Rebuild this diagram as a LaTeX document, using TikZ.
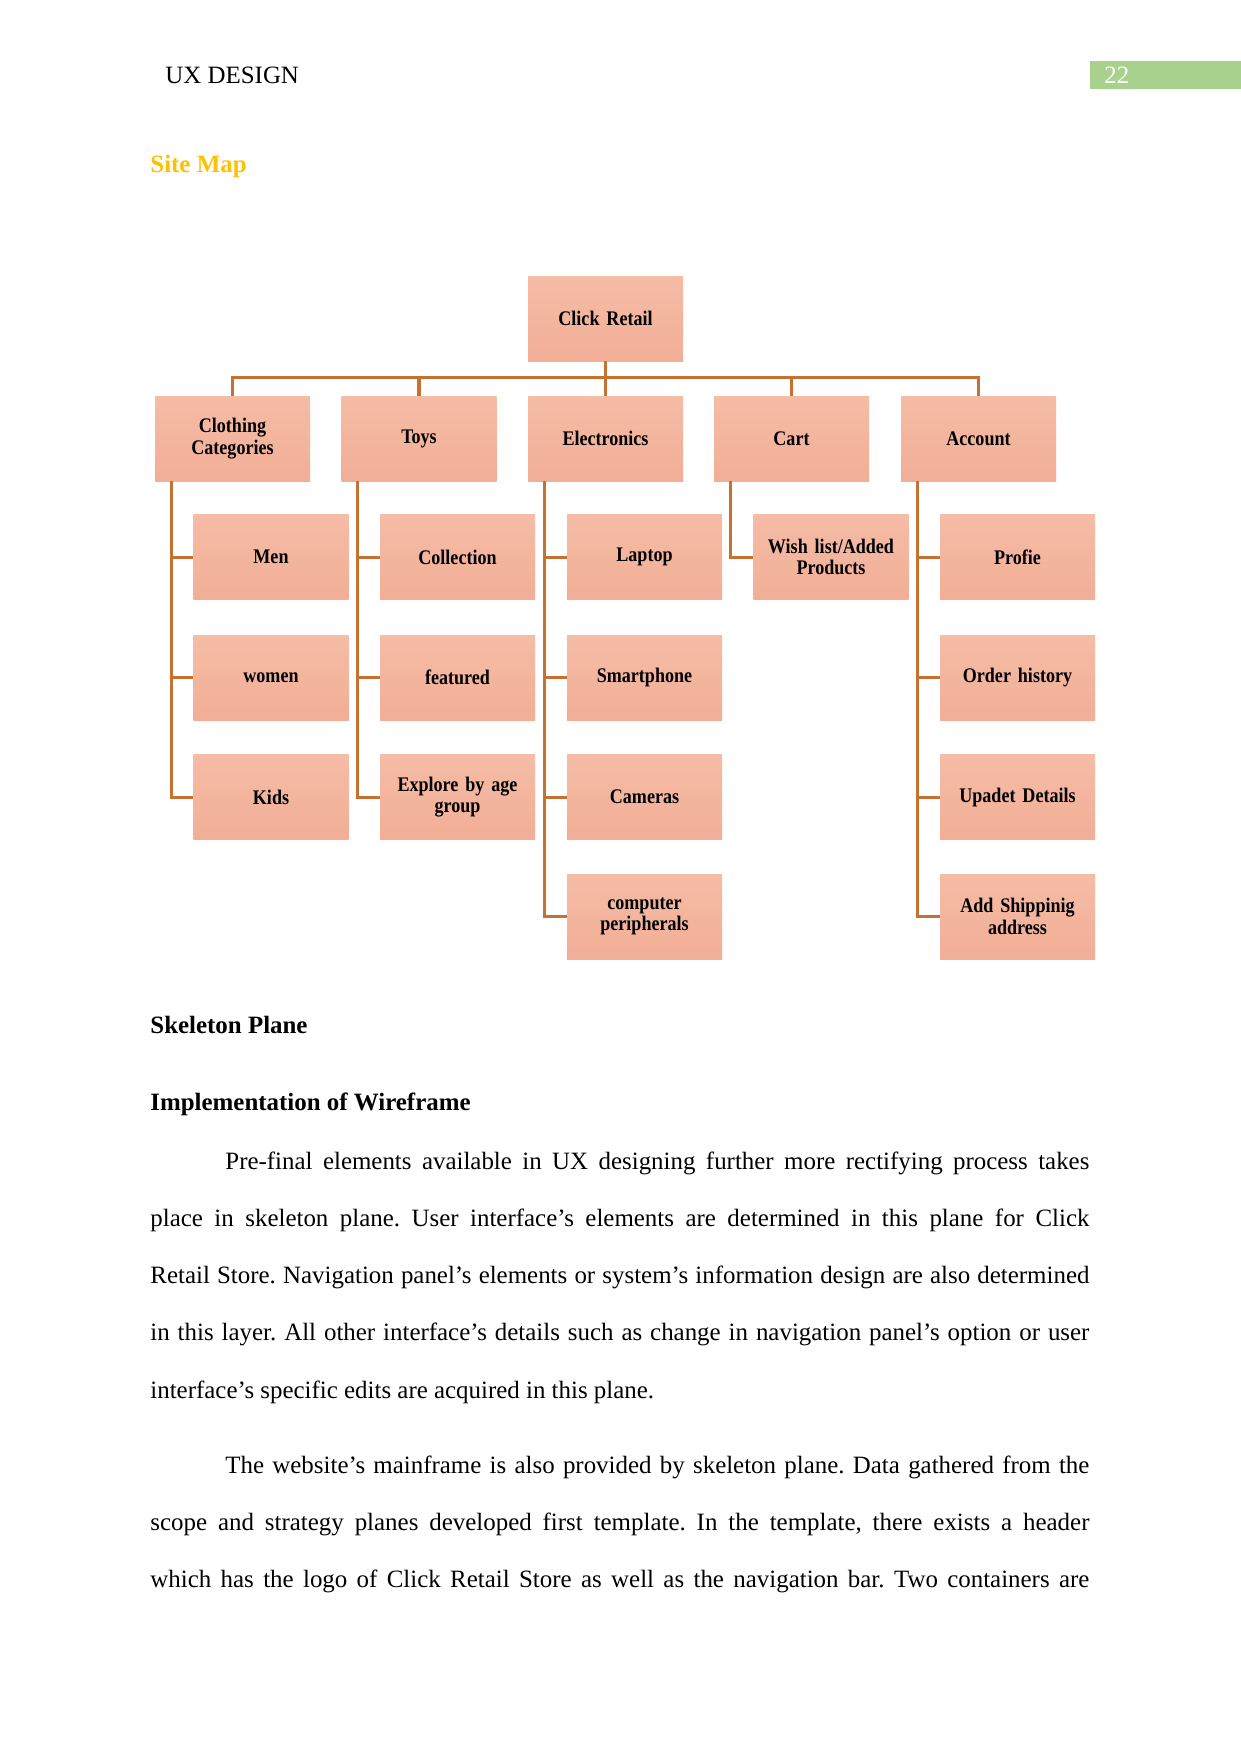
\documentclass[tikz,border=0pt]{standalone}
\usepackage{fontspec}
\setmainfont{Liberation Serif}
\newfontfamily\boxfont{Liberation Serif}[FakeStretch=0.87]
\usetikzlibrary{calc}
\newlength\pxu
\setlength\pxu{0.16925mm}
\definecolor{boxtop}{RGB}{245,188,166}
\definecolor{boxbot}{RGB}{242,174,150}
\definecolor{linkc}{RGB}{198,113,48}
\definecolor{hdrgreen}{RGB}{169,209,142}
\definecolor{gold}{RGB}{255,192,0}
\frenchspacing
\tikzset{
  sbox/.style={draw=none, top color=boxtop, bottom color=boxbot,
    minimum width=155\pxu, minimum height=85\pxu, inner sep=1pt,
    align=center, text width=140\pxu,
    font=\boxfont\bfseries\fontsize{10}{10.4}\selectfont},
  link/.style={draw=linkc, line width=1.45pt},
  bodyline/.style={anchor=base west, inner sep=0pt, font=\fontsize{12}{14}\selectfont},
  headline/.style={anchor=base west, inner sep=0pt, font=\bfseries\fontsize{12}{14}\selectfont}
}
\begin{document}
\begin{tikzpicture}[x=0.16925mm, y=-0.16925mm]
\useasboundingbox (0,0) rectangle (1241,1754);
\fill[white] (0,0) rectangle (1241,1754);

% header
\node[bodyline] (hdr) at (165,83) {UX DESIGN};
\fill[hdrgreen] (1090,61) rectangle (1241,89);
\node[bodyline, text=white] (pg) at (1104,83) {22};
\node[headline, text=gold] (sitemap) at (150,172) {Site Map};

% chart
\node[sbox] (root) at (605.5,318.5) {Click Retail};
\node[sbox] (c1) at (232.5,438.5) {Clothing\\Categories};
\node[sbox] (c2) at (419,438.5) {Toys};
\node[sbox] (c3) at (605.5,438.5) {Electronics};
\node[sbox] (c4) at (791.5,438.5) {Cart};
\node[sbox] (c5) at (978.5,438.5) {Account};

\node[sbox] (m1) at (271,557) {Men};
\node[sbox] (m2) at (271,677.5) {women};
\node[sbox] (m3) at (271,797) {Kids};

\node[sbox] (t1) at (457.5,557) {Collection};
\node[sbox] (t2) at (457.5,677.5) {featured};
\node[sbox] (t3) at (457.5,797) {Explore by age\\group};

\node[sbox] (e1) at (644.5,557) {Laptop};
\node[sbox] (e2) at (644.5,677.5) {Smartphone};
\node[sbox] (e3) at (644.5,797) {Cameras};
\node[sbox] (e4) at (644.5,916.5) {computer\\peripherals};

\node[sbox] (w1) at (831,557) {Wish list/Added\\Products};

\node[sbox] (a1) at (1017.5,557) {Profie};
\node[sbox] (a2) at (1017.5,677.5) {Order history};
\node[sbox] (a3) at (1017.5,797) {Upadet Details};
\node[sbox] (a4) at (1017.5,916.5) {Add Shippinig\\address};

\coordinate (bus) at (0,377.5);
\draw[link] (root.south) -- (root.south |- bus);
\draw[link] (c1.north) -- (c1.north |- bus) -| (c5.north);
\draw[link] (c2.north) -- (c2.north |- bus);
\draw[link] (c3.north) -- (c3.north |- bus);
\draw[link] (c4.north) -- (c4.north |- bus);

\coordinate (k1) at ($(c1.south west)+(16.5,0)$);
\coordinate (k2) at ($(c2.south west)+(16.5,0)$);
\coordinate (k3) at ($(c3.south west)+(16.5,0)$);
\coordinate (k4) at ($(c4.south west)+(16.5,0)$);
\coordinate (k5) at ($(c5.south west)+(16.5,0)$);

\foreach \ch in {m1,m2,m3} \draw[link] (k1) |- (\ch.west);
\foreach \ch in {t1,t2,t3} \draw[link] (k2) |- (\ch.west);
\foreach \ch in {e1,e2,e3,e4} \draw[link] (k3) |- (\ch.west);
\draw[link] (k4) |- (w1.west);
\foreach \ch in {a1,a2,a3,a4} \draw[link] (k5) |- (\ch.west);

% text
\node[headline] (h1) at (150,1033) {Skeleton Plane};
\node[headline] (h2) at (150,1110) {Implementation of Wireframe};

\node[bodyline] (p1) at (225,1169) {\makebox[864\pxu][s]{Pre-final elements available in UX designing further more rectifying process takes}};
\node[bodyline] (p2) at (150,1226) {\makebox[939\pxu][s]{place in skeleton plane. User interface’s elements are determined in this plane for Click}};
\node[bodyline] (p3) at (150,1283) {\makebox[939\pxu][s]{Retail Store. Navigation panel’s elements or system’s information design are also determined}};
\node[bodyline] (p4) at (150,1340) {\makebox[939\pxu][s]{in this layer. All other interface’s details such as change in navigation panel’s option or user}};
\node[bodyline] (p5) at (150,1398) {interface’s specific edits are acquired in this plane.};

\node[bodyline] (q1) at (225,1473) {\makebox[864\pxu][s]{The website’s mainframe is also provided by skeleton plane. Data gathered from the}};
\node[bodyline] (q2) at (150,1530) {\makebox[939\pxu][s]{scope and strategy planes developed first template. In the template, there exists a header}};
\node[bodyline] (q3) at (150,1587) {\makebox[939\pxu][s]{which has the logo of Click Retail Store as well as the navigation bar. Two containers are}};
\end{tikzpicture}
\end{document}
